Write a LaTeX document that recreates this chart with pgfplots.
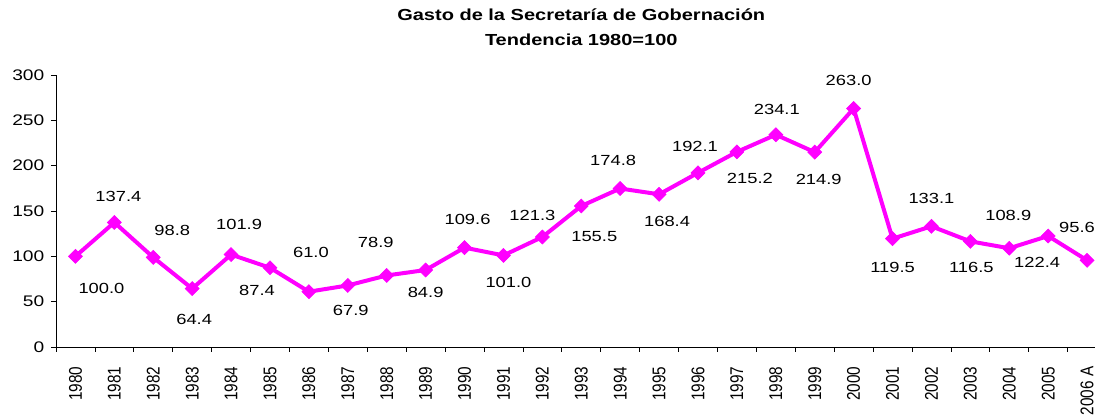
\documentclass[border=0pt]{standalone}
\usepackage{fontspec}
\setmainfont{Liberation Sans}[FakeStretch=1.25]
\newfontfamily\plainsans{Liberation Sans}
\usepackage{graphicx}
\usepackage{pgfplots}
\usepackage{pgfplotstable}
\pgfplotsset{compat=1.18}
\definecolor{mag}{RGB}{255,0,255}
\newcommand\vs[1]{\scalebox{1}[1.2]{#1}}
\pgfplotstableread{
x y dx dy
0 100.0 19.5 -24
1 137.4 3 19.5
2 98.8 14.25 20.25
3 64.4 1.5 -23.25
4 101.9 6 22.5
5 87.4 -9.75 -17.25
6 61.0 1.5 29.25
7 67.9 2.25 -18.75
8 78.9 -8.25 24.75
9 84.9 0 -16.5
10 109.6 2.25 21
11 101.0 3.75 -20.25
12 121.3 -7.5 16.5
13 155.5 9.75 -23.25
14 174.8 -5.25 21
15 168.4 6 -20.25
16 192.1 -2.25 19.5
17 215.2 9.75 -20.25
18 234.1 0.75 18.75
19 214.9 3 -20.25
20 263.0 -3.75 21
21 119.5 0 -21.75
22 133.1 0 21
23 116.5 0.75 -19.5
24 108.9 -0.75 24.75
25 122.4 -8.25 -19.5
26 95.6 -7.5 24.75
}\datatable
\begin{document}
\begin{tikzpicture}
\begin{axis}[
  at={(0,0)}, anchor=south west,
  scale only axis,
  width=787.9pt, height=204pt,
  xmin=-0.5, xmax=26.5,
  ymin=0, ymax=300,
  ytick={0,50,...,300},
  xtick={-0.5,0.5,...,26.5},
  x tick label as interval=true,
  xticklabels={\vs{1980},\vs{1981},\vs{1982},\vs{1983},\vs{1984},\vs{1985},\vs{1986},\vs{1987},\vs{1988},\vs{1989},\vs{1990},\vs{1991},\vs{1992},\vs{1993},\vs{1994},\vs{1995},\vs{1996},\vs{1997},\vs{1998},\vs{1999},\vs{2000},\vs{2001},\vs{2002},\vs{2003},\vs{2004},\vs{2005},\vs{2006 A}},
  axis x line*=bottom,
  axis y line*=left,
  tick align=outside,
  major tick length=3.75pt,
  tick style={black, line width=0.6pt},
  axis line style={black, line width=0.6pt},
  /pgf/number format/assume math mode=true,
  y tick label style={xshift=-1.5pt, font=\fontsize{11.5}{13}\selectfont},
  x tick label style={yshift=-7.5pt, rotate=90, anchor=east, font=\plainsans\fontsize{11.5}{13}\selectfont},
  clip=false,
  title={Gasto de la Secretaría de Gobernación\\Tendencia 1980=100},
  title style={at={(0.5,1)}, anchor=center, yshift=29.5pt, align=center,
    font=\fontsize{12}{18.75}\selectfont\bfseries},
]
\addplot[mag, line width=3pt, mark=square*,
  mark options={rotate=45, solid, line width=0.5pt, fill=mag, draw=mag},
  mark size=3.7pt,
  visualization depends on={\thisrow{dx}\as\dx},
  visualization depends on={\thisrow{dy}\as\dy},
  nodes near coords={\pgfmathprintnumber[fixed,fixed zerofill,precision=1]{\pgfplotspointmeta}},
  every node near coord/.append style={anchor=center, xshift=\dx pt, yshift=\dy pt,
    text=black, font=\fontsize{11}{13}\selectfont},
] table[x=x, y=y] {\datatable};
\end{axis}
\pgfresetboundingbox
\path (-42pt,-54.75pt) rectangle (779.25pt,260.25pt);
\end{tikzpicture}
\end{document}
